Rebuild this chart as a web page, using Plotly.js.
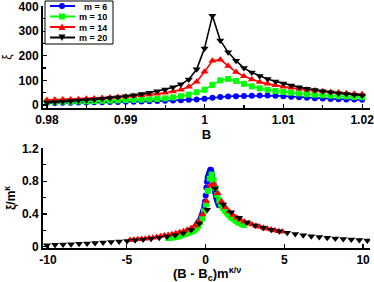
<!DOCTYPE html>
<html><head><meta charset="utf-8">
<script src="https://cdn.plot.ly/plotly-3.0.1.min.js"></script>
<style>html,body{margin:0;padding:0;background:#fff}#chart{width:374px;height:282px}</style>
</head><body><div id="chart"></div>
<script>
// ---- data ----
const fieldB = [0.980,0.981,0.982,0.983,0.984,0.985,0.986,0.987,0.988,0.989,0.990,0.991,0.992,0.993,0.994,0.995,0.996,0.997,0.998,0.999,1.000,1.001,1.002,1.003,1.004,1.005,1.006,1.007,1.008,1.009,1.010,1.011,1.012,1.013,1.014,1.015,1.016,1.017,1.018,1.019,1.020];
const xiM6  = [8,8,9,9,10,10,11,11,12,12,13,13,14,15,16,17,18,19,21,23,26,30,33,35,36,37,38,39,39,38,36,34,32,30,28,27,25,24,23,22,21];
const xiM10 = [13,13,14,14,15,15,16,17,18,19,20,21,22,23,25,27,31,36,42,52,62,82,100,106,98,86,76,68,62,57,53,50,47,44,42,40,38,36,35,33,32];
const xiM14 = [20,21,22,23,24,26,27,29,31,33,35,37,40,43,46,50,55,62,74,95,135,180,184,158,134,117,104,94,86,80,74,70,66,62,59,56,53,51,48,46,44];
const xiM20 = [10,12,14,16,18,20,23,26,29,32,36,40,45,50,56,63,72,84,104,145,230,362,262,214,180,150,132,118,106,96,87,79,72,66,61,56,52,48,45,42,39];
const sizes = [6,10,14,20];
const seriesNames = ['m = 6','m = 10','m = 14','m = 20'];
const Bc = 0.9998, kappa = 2.08, kappaOverNu = 2.08;

const topXTicks = [0.98,0.99,1.00,1.01,1.02], topXLabels = ['0.98','0.99','1','1.01','1.02'];
const topYTicks = [0,100,200,300,400], topYLabels = ['0','100','200','300','400'];
const botXTicks = [-10,-5,0,5,10], botXLabels = ['-10','-5','0','5','10'];
const botYTicks = [0,0.4,0.8,1.2], botYLabels = ['0','0.4','0.8','1.2'];

// ---- styling ----
const colors = ['#0000ff','#00ff00','#ff0000','#000000'];
const symbols = ['circle','square','triangle-up','triangle-down'];
const msizes = [6,6,7,7];
const series = [xiM6, xiM10, xiM14, xiM20];

const traces = [];
series.forEach((ys,k)=>{
  traces.push({x: fieldB, y: ys, xaxis:'x', yaxis:'y', type:'scatter', mode:'lines+markers',
    name: seriesNames[k], showlegend:false,
    line:{color:colors[k], width:1.6}, marker:{color:colors[k], symbol:symbols[k], size:msizes[k]}});
});
series.forEach((ys,k)=>{
  const m = sizes[k];
  traces.push({x: fieldB.map(b=>(b-Bc)*Math.pow(m,kappaOverNu)), y: ys.map(v=>v/Math.pow(m,kappa)),
    xaxis:'x2', yaxis:'y2', type:'scatter', mode:'markers', name: seriesNames[k], showlegend:false,
    marker:{color:colors[k], symbol:symbols[k], size:msizes[k]}});
});

const W=374,H=282,L=43,R=4,T=6,BM=34;
const pw=W-L-R, ph=H-T-BM;
const px=v=>(v-L)/pw, py=v=>(H-BM-v)/ph;

const FF='Liberation Sans, Arial, Helvetica, sans-serif';
const tf={family:FF,size:12,color:'#000',weight:'bold'};
const axBase={showline:true,linewidth:2,linecolor:'#000',ticks:'inside',ticklen:4,tickwidth:1.2,tickcolor:'#000',
  showgrid:false,zeroline:false,tickfont:tf,tickmode:'array',ticklabeloverflow:'allow'};

const shapes=[], annotations=[];
shapes.push({type:'rect',xref:'paper',yref:'paper',x0:px(45),x1:px(113),y0:py(44),y1:py(1),
  line:{color:'#000',width:1},fillcolor:'#fff',layer:'above'});
seriesNames.forEach((nm,k)=>{
  const yc=6+10.5*k;
  shapes.push({type:'line',xref:'paper',yref:'paper',x0:px(50),x1:px(75),y0:py(yc),y1:py(yc),line:{color:colors[k],width:2}});
  const cx=62;
  if(k===0) shapes.push({type:'circle',xref:'paper',yref:'paper',x0:px(cx-3),x1:px(cx+3),y0:py(yc+3),y1:py(yc-3),fillcolor:colors[k],line:{width:0}});
  if(k===1) shapes.push({type:'rect',xref:'paper',yref:'paper',x0:px(cx-3),x1:px(cx+3),y0:py(yc+3),y1:py(yc-3),fillcolor:colors[k],line:{width:0}});
  if(k===2) shapes.push({type:'path',xref:'paper',yref:'paper',path:`M ${px(cx-3.5)},${py(yc+3)} L ${px(cx+3.5)},${py(yc+3)} L ${px(cx)},${py(yc-3.5)} Z`,fillcolor:colors[k],line:{width:0}});
  if(k===3) shapes.push({type:'path',xref:'paper',yref:'paper',path:`M ${px(cx-3.5)},${py(yc-3)} L ${px(cx+3.5)},${py(yc-3)} L ${px(cx)},${py(yc+3.5)} Z`,fillcolor:colors[k],line:{width:0}});
  annotations.push({xref:'paper',yref:'paper',x:px(108),y:py(yc),xanchor:'right',yanchor:'middle',showarrow:false,
    height:9,borderpad:0,text:nm,font:{family:FF,size:9,color:'#000',weight:'bold'}});
});
// bottom x-axis title placed as text below the tick labels
annotations.push({xref:'paper',yref:'paper',x:0.5,y:py(274),xanchor:'center',yanchor:'middle',showarrow:false,
  height:14,borderpad:0,text:'(B - B<sub>c</sub>)m<sup>κ/ν</sup>',font:{family:FF,size:13,color:'#000',weight:'bold'}});

const layout={
  width:W,height:H,margin:{l:L,r:R,t:T,b:BM},paper_bgcolor:'#fff',plot_bgcolor:'#fff',
  font:{family:FF,size:12,color:'#000'},showlegend:false,
  xaxis:Object.assign({},axBase,{domain:[0,1],anchor:'y',range:[0.9795,1.0210],tickvals:topXTicks,ticktext:topXLabels,
    minor:{tickvals:[0.985,0.995,1.005,1.015],ticks:'inside',ticklen:3,tickcolor:'#000'},
    title:{text:'B',font:{family:FF,size:13,weight:'bold'},standoff:1}}),
  yaxis:Object.assign({},axBase,{domain:[py(108),1],anchor:'x',range:[-12,402],tickvals:topYTicks,ticktext:topYLabels,
    minor:{tickvals:[50,150,250,350],ticks:'inside',ticklen:3,tickcolor:'#000'},
    title:{text:'ξ',font:{family:FF,size:12},standoff:10}}),
  xaxis2:Object.assign({},axBase,{domain:[0,1],anchor:'y2',range:[-10.32,10.44],tickvals:botXTicks,ticktext:botXLabels}),
  yaxis2:Object.assign({},axBase,{domain:[0,py(148)],anchor:'x2',range:[-0.015,1.205],tickvals:botYTicks,ticktext:botYLabels,
    minor:{tickvals:[0.2,0.6,1.0],ticks:'inside',ticklen:3,tickcolor:'#000'},
    title:{text:'ξ/m<sup>κ</sup>',font:{family:FF,size:12,weight:'bold'},standoff:4}}),
  shapes:shapes,annotations:annotations
};
Plotly.newPlot('chart',traces,layout,{staticPlot:true,displayModeBar:false});
</script>
</body></html>
